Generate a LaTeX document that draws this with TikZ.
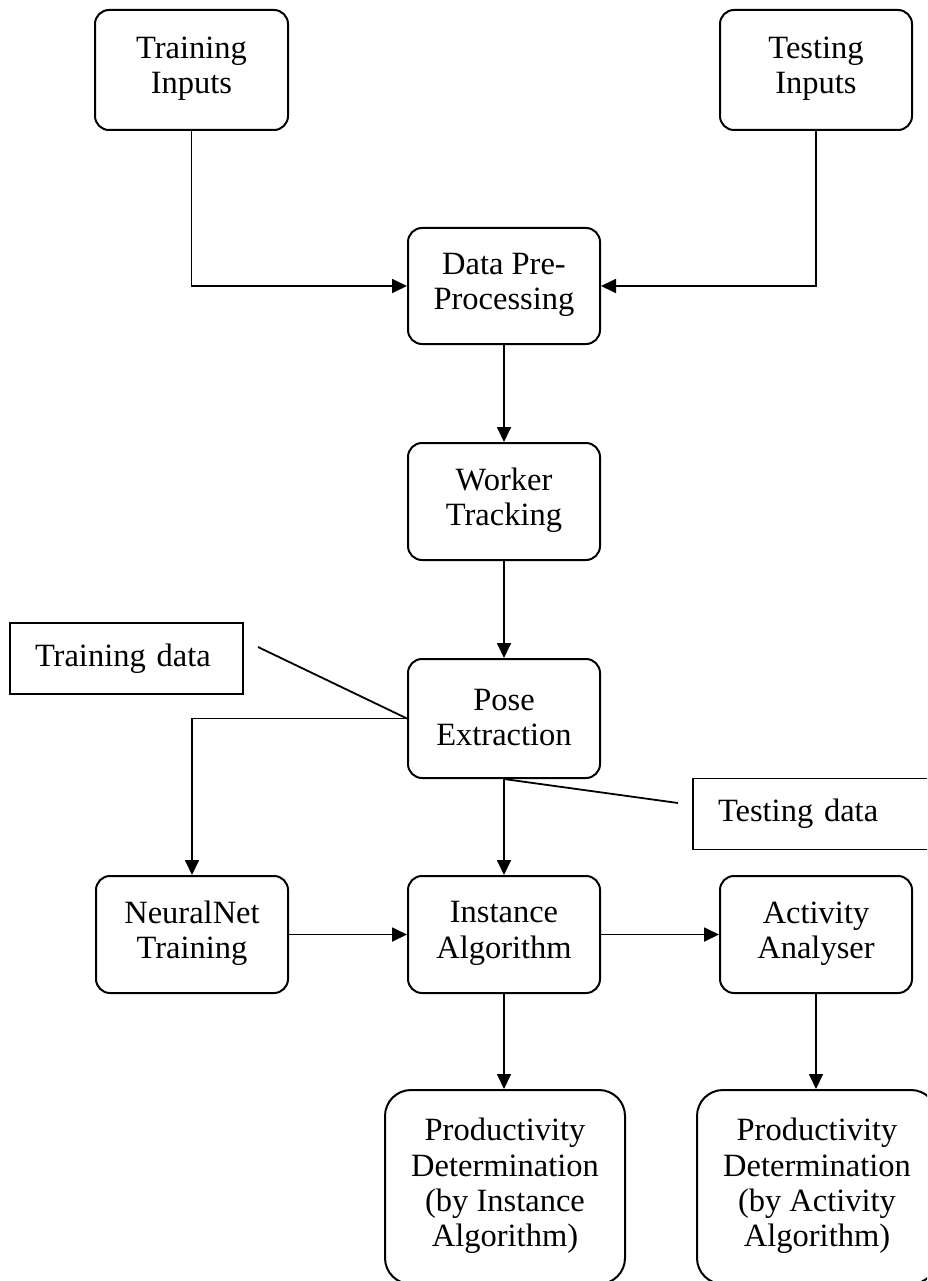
\documentclass[tikz,border=0pt]{standalone}
\usepackage{fontspec}
\setmainfont{Liberation Serif}
\usetikzlibrary{arrows.meta,calc}

\tikzset{
  flowbox/.style={draw, line width=2pt, rounded corners=14pt,
    minimum width=192pt, minimum height=117pt, inner sep=0pt},
  bigbox/.style={flowbox, rounded corners=26pt,
    minimum width=240pt, minimum height=194pt},
  boxtext/.style={align=center, inner sep=0pt,
    font=\fontsize{32.5}{35.3}\selectfont, yshift=1pt},
  callout/.style={draw, line width=1.8pt, inner xsep=25pt, inner ysep=0pt,
    minimum height=71pt, align=left, font=\fontsize{32.5}{35.3}\selectfont},
  link/.style={line width=1.8pt},
  arr/.style={link, -{Triangle[length=15pt,width=14pt]}},
}

\begin{document}
\begin{tikzpicture}[x=1pt,y=-1pt]
  \useasboundingbox (0,0) rectangle (927,1281);
  \clip (0,0) rectangle (927,1281);

  % process boxes
  \node[flowbox, minimum width=193pt, minimum height=120pt] (trainIn) at (191.5,70)
    [label={[boxtext]center:{Training\\Inputs}}] {};
  \node[flowbox, minimum height=120pt] (testIn) at (816,70)
    [label={[boxtext]center:{Testing\\Inputs}}] {};
  \node[flowbox, minimum height=116pt] (pre) at (504,286)
    [label={[boxtext]center:{Data Pre-\\Processing}}] {};
  \node[flowbox] (track) at (504,501.5)
    [label={[boxtext]center:{Worker\\Tracking}}] {};
  \node[flowbox, minimum height=119pt] (pose) at (504,718.5)
    [label={[boxtext]center:{Pose\\Extraction}}] {};
  \node[flowbox] (nn) at (192,934.5)
    [label={[boxtext]center:{NeuralNet\\Training}}] {};
  \node[flowbox] (inst) at (504,934.5)
    [label={[boxtext]center:{Instance\\Algorithm}}] {};
  \node[flowbox] (act) at (816,934.5)
    [label={[boxtext]center:{Activity\\Analyser}}] {};
  \node[bigbox] (pdI) at (505,1187)
    [label={[boxtext]center:{Productivity\\Determination\\(by Instance\\Algorithm)}}] {};
  \node[bigbox] (pdA) at (817,1187)
    [label={[boxtext]center:{Productivity\\Determination\\(by Activity\\Algorithm)}}] {};

  % data callouts
  \node[callout, text width=183pt] (trdata) at (126.5,658.5) {Training data};
  \node[callout, text width=187pt] (tsdata) at (811.5,814) {Testing data};
  \coordinate (trlead) at (258,647);
  \coordinate (tslead) at (678,803);

  % connectors
  \draw[arr] (trainIn.south) |- (pre.west);
  \draw[arr] (testIn.south) |- (pre.east);
  \draw[arr] (pre.south) -- (track.north);
  \draw[arr] (track.south) -- (pose.north);
  \draw[arr] (pose.west) -| (nn.north);
  \draw[arr] (pose.south) -- (inst.north);
  \draw[arr] (nn.east) -- (inst.west);
  \draw[arr] (inst.east) -- (act.west);
  \draw[arr] (inst.south) -- (inst.south |- pdI.north);
  \draw[arr] (act.south) -- (act.south |- pdA.north);

  % leader lines to the callouts
  \draw[link] (trlead) -- (pose.west);
  \draw[link] (pose.south) -- (tslead);
\end{tikzpicture}
\end{document}
